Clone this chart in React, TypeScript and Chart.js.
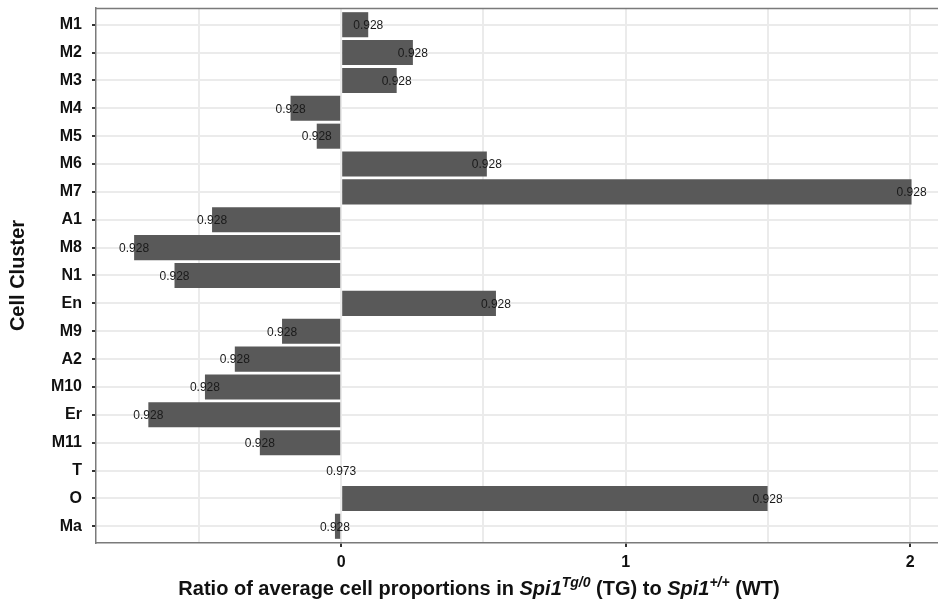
import React, { useEffect, useRef } from "react";
import { Chart, registerables } from "chart.js";

Chart.register(...registerables);

const categories = ["M1", "M2", "M3", "M4", "M5", "M6", "M7", "A1", "M8", "N1", "En", "M9", "A2", "M10", "Er", "M11", "T", "O", "Ma"];
const ratios = [0.095, 0.252, 0.195, -0.178, -0.086, 0.512, 2.005, -0.454, -0.728, -0.586, 0.544, -0.208, -0.374, -0.479, -0.678, -0.286, 0, 1.499, -0.022];
const barLabels = ["0.928", "0.928", "0.928", "0.928", "0.928", "0.928", "0.928", "0.928", "0.928", "0.928", "0.928", "0.928", "0.928", "0.928", "0.928", "0.928", "0.973", "0.928", "0.928"];
const xGridValues = [-0.5, 0, 0.5, 1, 1.5, 2];

const FONT = "'Liberation Sans', Arial, sans-serif";
const AXIS = "#7a7a7a";

export default function App() {
  const ref = useRef<HTMLCanvasElement | null>(null);

  useEffect(() => {
    const canvas = ref.current;
    if (!canvas) return;

    const decor = {
      id: "decor",
      afterDatasetsDraw(chart: any) {
        const ctx = chart.ctx;
        const meta = chart.getDatasetMeta(0);
        ctx.save();
        ctx.font = `12px ${FONT}`;
        ctx.fillStyle = "#1a1a1a";
        ctx.textAlign = "center";
        ctx.textBaseline = "middle";
        meta.data.forEach((bar: any, i: number) => {
          ctx.fillText(barLabels[i], bar.x, bar.y + 1);
        });
        ctx.restore();
      },
      afterDraw(chart: any) {
        const ctx = chart.ctx;
        const a = chart.chartArea;
        ctx.save();
        ctx.strokeStyle = AXIS;
        ctx.lineWidth = 1.5;
        ctx.beginPath();
        ctx.moveTo(a.left, a.top + 0.5);
        ctx.lineTo(a.right, a.top + 0.5);
        ctx.stroke();

        ctx.fillStyle = "#111111";
        ctx.font = `bold 20px ${FONT}`;
        ctx.textAlign = "center";
        ctx.textBaseline = "middle";
        ctx.translate(18, (a.top + a.bottom) / 2);
        ctx.rotate(-Math.PI / 2);
        ctx.fillText("Cell Cluster", 0, 0);
        ctx.restore();

        ctx.save();
        ctx.fillStyle = "#111111";
        ctx.textAlign = "left";
        ctx.textBaseline = "alphabetic";
        const runs = [
          { t: "Ratio of average cell proportions in ", f: `bold 20px ${FONT}`, dy: 0 },
          { t: "Spi1", f: `italic bold 20px ${FONT}`, dy: 0 },
          { t: "Tg/0", f: `italic bold 14px ${FONT}`, dy: -8 },
          { t: " (TG) to ", f: `bold 20px ${FONT}`, dy: 0 },
          { t: "Spi1", f: `italic bold 20px ${FONT}`, dy: 0 },
          { t: "+/+", f: `italic bold 14px ${FONT}`, dy: -8 },
          { t: " (WT)", f: `bold 20px ${FONT}`, dy: 0 },
        ];
        let total = 0;
        runs.forEach((r) => {
          ctx.font = r.f;
          total += ctx.measureText(r.t).width;
        });
        let x = 479 - total / 2;
        const baseY = 595;
        runs.forEach((r) => {
          ctx.font = r.f;
          ctx.fillText(r.t, x, baseY + r.dy);
          x += ctx.measureText(r.t).width;
        });
        ctx.restore();
      },
    };

    const chart = new Chart(canvas, {
      type: "bar",
      data: {
        datasets: [
          {
            data: ratios.map((v, i) => ({ x: v, y: i })),
            backgroundColor: "#595959",
            borderWidth: 0,
            barPercentage: 0.9,
            categoryPercentage: 1.0,
          },
        ],
      },
      options: {
        indexAxis: "y",
        responsive: false,
        animation: false,
        layout: { padding: { top: 8, left: 0, right: 0, bottom: 0 } },
        plugins: {
          legend: { display: false },
          tooltip: { enabled: false },
          title: { display: false },
        },
        scales: {
          y: {
            type: "linear",
            reverse: true,
            offset: false,
            min: -0.6,
            max: categories.length - 1 + 0.6,
            afterBuildTicks: (scale: any) => {
              scale.ticks = categories.map((_, i) => ({ value: i }));
            },
            afterFit: (scale: any) => {
              scale.width = 96;
              scale.paddingTop = 0;
              scale.paddingBottom = 0;
            },
            ticks: {
              autoSkip: false,
              callback: (v: any) => categories[Math.round(Number(v))] ?? "",
              font: { family: FONT, size: 16, weight: "bold" },
              color: "#111111",
              padding: 10,
            },
            grid: {
              offset: false,
              color: "#ebebeb",
              lineWidth: 2,
              tickLength: 4,
              tickColor: "#333333",
              tickWidth: 2,
            },
            border: { color: AXIS, width: 1.5 },
          },
          x: {
            type: "linear",
            min: -0.862,
            max: 2.098,
            afterBuildTicks: (scale: any) => {
              scale.ticks = xGridValues.map((v) => ({ value: v }));
            },
            afterFit: (scale: any) => {
              scale.height = 59;
              scale.paddingLeft = 0;
              scale.paddingRight = 0;
            },
            ticks: {
              autoSkip: false,
              maxRotation: 0,
              callback: (v: any) => (Number.isInteger(Number(v)) ? String(v) : ""),
              font: { family: FONT, size: 16, weight: "bold" },
              color: "#111111",
              padding: 6,
            },
            grid: {
              color: "#ebebeb",
              lineWidth: 2,
              tickLength: 4,
              tickWidth: 2,
              tickColor: (ctx: any) =>
                ctx.tick && Number.isInteger(ctx.tick.value) ? "#333333" : "rgba(0,0,0,0)",
            },
            border: { color: AXIS, width: 1.5 },
          },
        },
      },
      plugins: [decor],
    } as any);

    return () => chart.destroy();
  }, []);

  return (
    <div style={{ position: "fixed", left: 0, top: 0, width: 938, height: 602, background: "#ffffff" }}>
      <canvas ref={ref} width={938} height={602} style={{ display: "block" }} />
    </div>
  );
}
